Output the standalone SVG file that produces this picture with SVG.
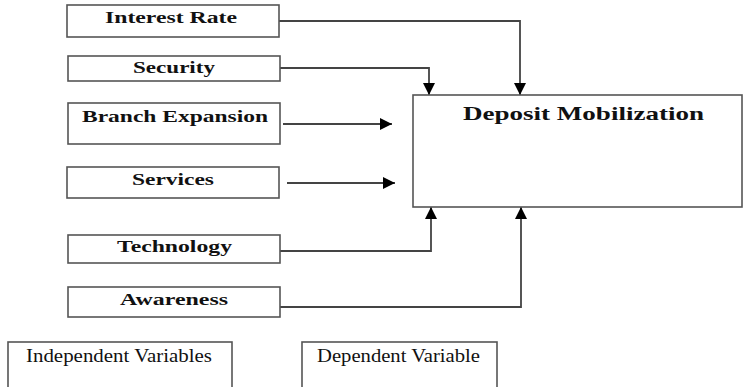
<svg xmlns="http://www.w3.org/2000/svg" width="744" height="387" viewBox="0 0 744 387">
<style>
.box{fill:#fff;stroke:#555;stroke-width:1.6}
.lbl{font-family:"Liberation Serif","Times New Roman",serif;font-weight:bold;font-size:17px;fill:#111}
.big{font-family:"Liberation Serif","Times New Roman",serif;font-size:19px;fill:#111}
.ln{fill:none;stroke:#444;stroke-width:1.8}
</style>
<defs>
<marker id="ah" viewBox="0 0 10 10" refX="10" refY="5" markerWidth="12" markerHeight="12" markerUnits="userSpaceOnUse" orient="auto">
<path d="M0,0 L10,5 L0,10 z" fill="#000"/>
</marker>
</defs>
<g id="connectors">
<path class="ln" d="M279,21 H520 V95" marker-end="url(#ah)"/>
<path class="ln" d="M280,68 H429 V95" marker-end="url(#ah)"/>
<path class="ln" d="M283,124 H392" marker-end="url(#ah)"/>
<path class="ln" d="M287,183 H395" marker-end="url(#ah)"/>
<path class="ln" d="M280,251 H431 V207" marker-end="url(#ah)"/>
<path class="ln" d="M280,307 H521 V207" marker-end="url(#ah)"/>
</g>
<g id="interest-rate"><rect class="box" x="67" y="5" width="212" height="32"/><text class="lbl" x="105" y="23" textLength="132" lengthAdjust="spacingAndGlyphs">Interest Rate</text></g>
<g id="security"><rect class="box" x="68" y="56" width="212" height="25"/><text class="lbl" x="133" y="73" textLength="82" lengthAdjust="spacingAndGlyphs">Security</text></g>
<g id="branch-expansion"><rect class="box" x="68" y="103" width="212" height="41"/><text class="lbl" x="82" y="122" textLength="186" lengthAdjust="spacingAndGlyphs">Branch Expansion</text></g>
<g id="services"><rect class="box" x="67" y="167" width="212" height="31"/><text class="lbl" x="132" y="185" textLength="82" lengthAdjust="spacingAndGlyphs">Services</text></g>
<g id="technology"><rect class="box" x="68" y="235" width="212" height="28"/><text class="lbl" x="117" y="252" textLength="115" lengthAdjust="spacingAndGlyphs">Technology</text></g>
<g id="awareness"><rect class="box" x="68" y="287" width="212" height="30"/><text class="lbl" x="120" y="305" textLength="108" lengthAdjust="spacingAndGlyphs">Awareness</text></g>
<g id="deposit-mobilization"><rect class="box" x="413" y="95" width="329" height="112"/><text class="big" x="463" y="120" textLength="241" lengthAdjust="spacingAndGlyphs" font-weight="bold">Deposit Mobilization</text></g>
<g id="independent-variables"><rect class="box" x="8" y="342" width="224" height="50"/><text class="big" x="26" y="362" textLength="186" lengthAdjust="spacingAndGlyphs">Independent Variables</text></g>
<g id="dependent-variable"><rect class="box" x="302" y="342" width="195" height="50"/><text class="big" x="317" y="362" textLength="163" lengthAdjust="spacingAndGlyphs">Dependent Variable</text></g>
</svg>
